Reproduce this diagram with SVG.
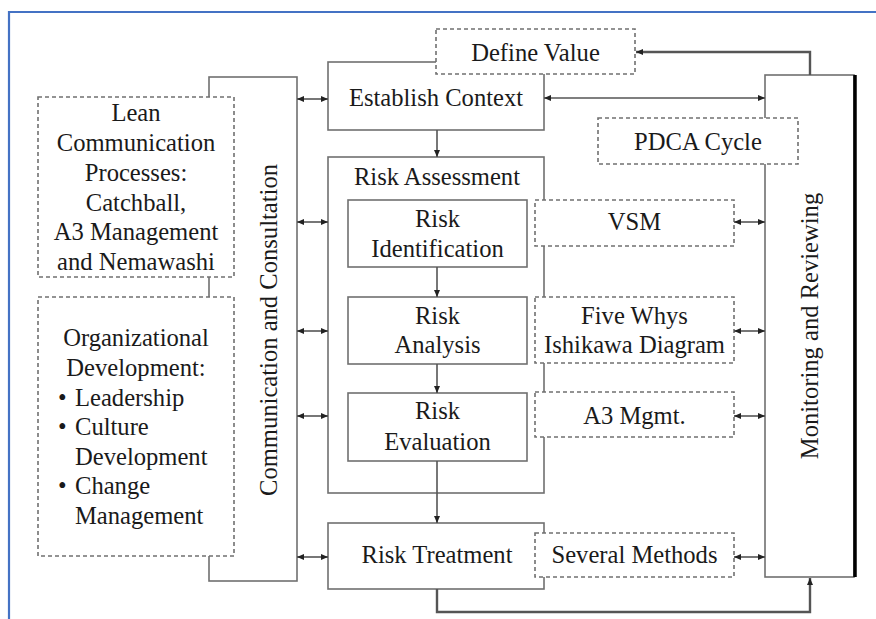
<svg xmlns="http://www.w3.org/2000/svg" width="876" height="619" viewBox="0 0 876 619">
  <style>
    .box { fill: #ffffff; stroke: #707070; stroke-width: 1.6; }
    .dash { fill: #ffffff; stroke: #707070; stroke-width: 1.6; stroke-dasharray: 4 3; }
    .lbl { font-family: "Liberation Serif", "Times New Roman", serif; font-size: 24.6px; fill: #1a1a1a; }
    .mid { text-anchor: middle; }
    .con { fill: none; stroke: #555555; stroke-width: 1.6; }
    .thick { fill: none; stroke: #555555; stroke-width: 2.4; }
  </style>
  <defs>
    <marker id="ah" markerUnits="userSpaceOnUse" markerWidth="8" markerHeight="7" refX="7" refY="3.5" orient="auto-start-reverse">
      <path d="M0,0.5 L7,3.5 L0,6.5 z" fill="#222222"/>
    </marker>
  </defs>

  <rect width="876" height="619" fill="#ffffff"/>
  <!-- outer frame -->
  <path d="M9,619 V12 H876" fill="none" stroke="#4472C4" stroke-width="2.2"/>

  <g id="comm-consultation">
    <rect class="box" x="209" y="77" width="88" height="504"/>
    <text class="lbl mid" transform="translate(277,330) rotate(-90)">Communication and Consultation</text>
  </g>

  <g id="lean-communication">
    <rect class="dash" x="38" y="97" width="196" height="180"/>
    <text class="lbl mid" x="136" y="121">Lean</text>
    <text class="lbl mid" x="136" y="151">Communication</text>
    <text class="lbl mid" x="136" y="181">Processes:</text>
    <text class="lbl mid" x="136" y="210.5">Catchball,</text>
    <text class="lbl mid" x="136" y="240">A3 Management</text>
    <text class="lbl mid" x="136" y="270">and Nemawashi</text>
  </g>

  <g id="organizational-development">
    <rect class="dash" x="38" y="297" width="196" height="259"/>
    <text class="lbl mid" x="136" y="346">Organizational</text>
    <text class="lbl mid" x="136" y="376">Development:</text>
    <text class="lbl" x="58" y="406">•</text>
    <text class="lbl" x="75" y="406">Leadership</text>
    <text class="lbl" x="58" y="435">•</text>
    <text class="lbl" x="75" y="435">Culture</text>
    <text class="lbl" x="75" y="465">Development</text>
    <text class="lbl" x="58" y="494">•</text>
    <text class="lbl" x="75" y="494">Change</text>
    <text class="lbl" x="75" y="524">Management</text>
  </g>

  <g id="establish-context">
    <rect class="box" x="328" y="62" width="216" height="68"/>
    <text class="lbl mid" x="436" y="106">Establish Context</text>
  </g>

  <g id="define-value">
    <rect class="dash" x="436" y="29" width="199" height="45"/>
    <text class="lbl mid" x="535.5" y="61">Define Value</text>
  </g>

  <g id="monitoring-reviewing">
    <rect class="box" x="765" y="75" width="89" height="502"/>
    <line x1="855" y1="75" x2="855" y2="577" stroke="#000000" stroke-width="3.5"/>
    <text class="lbl mid" transform="translate(818,326) rotate(-90)">Monitoring and Reviewing</text>
  </g>

  <g id="pdca-cycle">
    <rect class="dash" x="598" y="118" width="200" height="46"/>
    <text class="lbl mid" x="698" y="150">PDCA Cycle</text>
  </g>

  <g id="risk-assessment">
    <rect class="box" x="328" y="157" width="216" height="336"/>
    <text class="lbl mid" x="437" y="185">Risk Assessment</text>
  </g>

  <g id="risk-identification">
    <rect class="box" x="348" y="200" width="179" height="67"/>
    <text class="lbl mid" x="437.5" y="227">Risk</text>
    <text class="lbl mid" x="437.5" y="257">Identification</text>
  </g>

  <g id="risk-analysis">
    <rect class="box" x="348" y="297" width="179" height="67"/>
    <text class="lbl mid" x="437.5" y="324">Risk</text>
    <text class="lbl mid" x="437.5" y="353">Analysis</text>
  </g>

  <g id="risk-evaluation">
    <rect class="box" x="348" y="393" width="179" height="68"/>
    <text class="lbl mid" x="437.5" y="419">Risk</text>
    <text class="lbl mid" x="437.5" y="450">Evaluation</text>
  </g>

  <g id="vsm">
    <rect class="dash" x="535" y="200" width="199" height="46"/>
    <text class="lbl mid" x="634.5" y="230">VSM</text>
  </g>

  <g id="five-whys">
    <rect class="dash" x="535" y="297" width="199" height="66"/>
    <text class="lbl mid" x="634.5" y="324">Five Whys</text>
    <text class="lbl mid" x="634.5" y="353">Ishikawa Diagram</text>
  </g>

  <g id="a3-mgmt">
    <rect class="dash" x="535" y="392" width="199" height="45"/>
    <text class="lbl mid" x="634.5" y="424">A3 Mgmt.</text>
  </g>

  <g id="risk-treatment">
    <rect class="box" x="328" y="523" width="216" height="66"/>
    <text class="lbl mid" x="437" y="563">Risk Treatment</text>
  </g>

  <g id="several-methods">
    <rect class="dash" x="535" y="533" width="199" height="44"/>
    <text class="lbl mid" x="634.5" y="563">Several Methods</text>
  </g>

  <g id="connectors">
    <!-- communication links to the process steps -->
    <line class="con" x1="297" y1="99" x2="328" y2="99" marker-start="url(#ah)" marker-end="url(#ah)"/>
    <line class="con" x1="297" y1="222" x2="328" y2="222" marker-start="url(#ah)" marker-end="url(#ah)"/>
    <line class="con" x1="297" y1="331" x2="328" y2="331" marker-start="url(#ah)" marker-end="url(#ah)"/>
    <line class="con" x1="297" y1="416" x2="328" y2="416" marker-start="url(#ah)" marker-end="url(#ah)"/>
    <line class="con" x1="297" y1="557" x2="328" y2="557" marker-start="url(#ah)" marker-end="url(#ah)"/>
    <!-- monitoring links -->
    <line class="con" x1="544" y1="98" x2="765" y2="98" marker-start="url(#ah)" marker-end="url(#ah)"/>
    <line class="con" x1="734" y1="222" x2="765" y2="222" marker-start="url(#ah)" marker-end="url(#ah)"/>
    <line class="con" x1="734" y1="331" x2="765" y2="331" marker-start="url(#ah)" marker-end="url(#ah)"/>
    <line class="con" x1="734" y1="416" x2="765" y2="416" marker-start="url(#ah)" marker-end="url(#ah)"/>
    <line class="con" x1="734" y1="557" x2="765" y2="557" marker-start="url(#ah)" marker-end="url(#ah)"/>
    <!-- main process flow -->
    <line class="con" x1="437" y1="130" x2="437" y2="157" marker-end="url(#ah)"/>
    <line class="con" x1="437" y1="267" x2="437" y2="297" marker-end="url(#ah)"/>
    <line class="con" x1="437" y1="364" x2="437" y2="393" marker-end="url(#ah)"/>
    <line class="con" x1="437" y1="461" x2="437" y2="523" marker-end="url(#ah)"/>
    <!-- feedback loops -->
    <path class="thick" d="M810,75 V52 H636" marker-end="url(#ah)"/>
    <path class="thick" d="M437,589 V612 H810 V578" marker-end="url(#ah)"/>
  </g>
</svg>
